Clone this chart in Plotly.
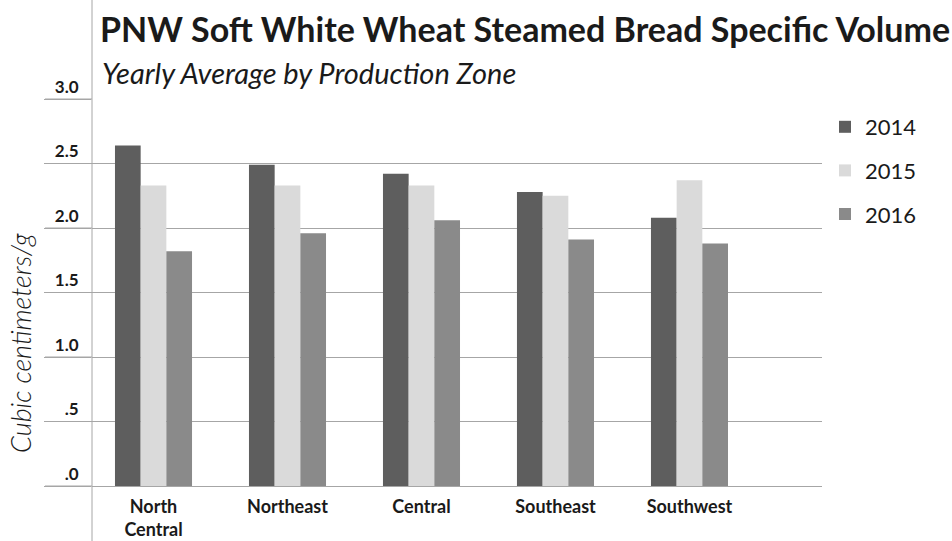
import plotly.graph_objects as go

# Production zones and yearly average specific volume (cc/g)
zones = ["North<br>Central", "Northeast", "Central", "Southeast", "Southwest"]
years = ["2014", "2015", "2016"]
vol_2014 = [2.64, 2.49, 2.42, 2.28, 2.08]
vol_2015 = [2.33, 2.33, 2.33, 2.25, 2.37]
vol_2016 = [1.82, 1.96, 2.06, 1.91, 1.88]
bar_colors = ["#5e5e5e", "#dadada", "#8a8a8a"]

y_tick_vals = [0, 0.5, 1.0, 1.5, 2.0, 2.5, 3.0]
y_tick_text = [".0", ".5", "1.0", "1.5", "2.0", "2.5", "3.0"]
Y_MAX = 3.0

TEXT = "#1a1a1a"
GRID = "#a6a6a6"

fig = go.Figure()
for year, vals, col in zip(years, [vol_2014, vol_2015, vol_2016], bar_colors):
    fig.add_trace(go.Bar(
        x=zones, y=vals, name=year, legendgroup=year,
        marker=dict(color=col, line=dict(width=0)),
    ))

W, H = 952, 541
L, R, T, B = 92, 130, 99, 55
plot_w = W - L - R
plot_h = H - T - B
TICK_EXT = 47  # gridline extension to the left of the value axis, px

shapes = [
    # full-height vertical rule along the value axis
    dict(
        type="line", xref="paper", yref="paper",
        x0=0, x1=0, y0=-B / plot_h, y1=1 + T / plot_h,
        line=dict(color=GRID, width=1),
    )
]
for v in y_tick_vals:
    # gridlines continue left under the tick labels
    shapes.append(dict(
        type="line", xref="paper", yref="paper", layer="above",
        x0=-TICK_EXT / plot_w, x1=0, y0=v / Y_MAX, y1=v / Y_MAX,
        line=dict(color=GRID, width=1),
    ))

fig.update_layout(
    width=W, height=H,
    margin=dict(l=L, r=R, t=T, b=B, autoexpand=False),
    paper_bgcolor="white", plot_bgcolor="white",
    barmode="group", bargap=0.425, bargroupgap=0,
    font=dict(family="Lato", color=TEXT),
    title=dict(
        text="<b>PNW Soft White Wheat Steamed Bread Specific Volume</b>",
        font=dict(family="Lato", size=34, color=TEXT),
        xref="paper", x=0.011, xanchor="left",
        yref="container", y=1 - 30 / H, yanchor="middle",
    ),
    legend=dict(
        x=(825 - L) / plot_w, xanchor="left",
        y=(H - B - 106) / plot_h, yanchor="top",
        font=dict(family="Lato", size=22, color=TEXT),
        tracegroupgap=12, bgcolor="rgba(0,0,0,0)",
    ),
    xaxis=dict(
        range=[-0.459, 4.989],
        showline=True, linecolor=GRID, linewidth=1,
        showgrid=False, ticks="",
        tickfont=dict(family="Lato", size=18, color=TEXT, weight="bold"),
        ticklabelstandoff=4, automargin=False,
        fixedrange=True,
    ),
    yaxis=dict(
        range=[0, Y_MAX],
        tickvals=y_tick_vals, ticktext=y_tick_text,
        tickfont=dict(family="Lato", size=17, color=TEXT, weight="bold"),
        showgrid=True, gridcolor=GRID, gridwidth=1,
        ticks="outside", ticklen=TICK_EXT, tickcolor=GRID, tickwidth=1,
        ticklabelstandoff=-38, ticklabelshift=-12,
        zeroline=False, showline=False, automargin=False,
    ),
    annotations=[
        dict(
            text="<i>Yearly Average by Production Zone</i>",
            xref="paper", x=0.011, xanchor="left",
            yref="paper", y=(H - B - 73) / plot_h, yanchor="middle",
            showarrow=False,
            font=dict(family="Lato", size=29, color=TEXT),
        ),
        dict(
            text="<i>Cubic centimeters/g</i>",
            xref="paper", x=(20 - L) / plot_w, xanchor="center",
            yref="paper", y=(H - B - 343) / plot_h, yanchor="middle",
            textangle=-90, showarrow=False,
            font=dict(family="Lato", size=27, color=TEXT, weight=300),
        ),
    ],
    shapes=shapes,
)

fig.write_html("out.html")
